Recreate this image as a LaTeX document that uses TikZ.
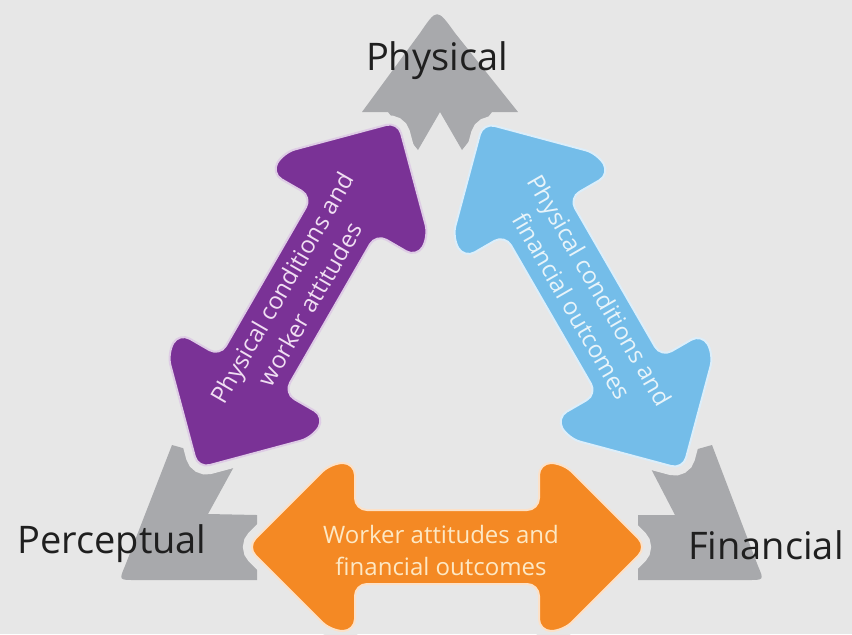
\documentclass[tikz,border=0pt]{standalone}
\usepackage{fontspec}
\setmainfont{Open Sans}
\definecolor{paper}{RGB}{231,231,231}
\definecolor{cornergray}{RGB}{168,169,172}
\definecolor{physworker}{RGB}{122,50,150}
\definecolor{physfin}{RGB}{116,189,233}
\definecolor{workerfin}{RGB}{244,137,36}
\definecolor{pwtext}{RGB}{240,222,242}
\definecolor{pftext}{RGB}{232,244,250}
\definecolor{wftext}{RGB}{253,232,196}
\tikzset{
  corner/.style={fill=cornergray},
  vertexlabel/.style={text=black!88, font=\fontsize{19}{23}\selectfont},
  arrowlabel/.style={align=center, font=\fontsize{12}{16}\selectfont},
  pics/twoway/.style={code={
    \path[fill=#1, draw=white!75!#1, line width=1pt, rounded corners=6pt,
          preaction={draw=paper, line width=9pt}]
      (200,0) -- (116,84) -- (92,84) -- (92,37) -- (-92,37) -- (-92,84)
      -- (-116,84) -- (-200,0) -- (-116,-84) -- (-92,-84) -- (-92,-37)
      -- (92,-37) -- (92,-84) -- (116,-84) -- cycle;
  }}
}
\begin{document}
\begin{tikzpicture}[x=0.5pt, y=-0.5pt]
			\useasboundingbox (0,0) rectangle (852,634);
			\fill[paper] (0,0) rectangle (852,634);
			% grey corners
			\fill[corner] (362,112) -- (420,33) .. controls (437,8) .. (455,33) -- (518,112)
				-- (492,112) -- (462,150) -- (440,112) -- (418,150) -- (388,112) -- cycle;
			\fill[corner] (172,445) -- (125,566) .. controls (119,580) .. (135,580) -- (257,580)
				-- (257,515) -- (208,514) -- (236,463) -- cycle;
			\fill[corner] (712,445) -- (758,566) .. controls (764,580) .. (748,580) -- (638,580)
				-- (638,515) -- (675,515) -- (648,463) -- cycle;
			% arrows
			\pic[rotate=60] at (298,295) {twoway=physworker};
			\pic[rotate=-60] at (583,296) {twoway=physfin};
			\pic at (447,547) {twoway=workerfin};
			\node[arrowlabel, text=pwtext, rotate=60] (pwlabel) at (296,296) {Physical conditions and\\worker attitudes};
			\node[arrowlabel, text=pftext, rotate=-60] (pflabel) at (586,298) {Physical conditions and\\financial outcomes};
			\node[arrowlabel, text=wftext] (wflabel) at (441,550) {Worker attitudes and\\financial outcomes};
			% corner labels
			\node[vertexlabel] (physical) at (437,61) {Physical};
			\node[vertexlabel] (perceptual) at (112,544) {Perceptual};
			\node[vertexlabel] (financial) at (766,545) {Financial};
		\end{tikzpicture}
\end{document}
